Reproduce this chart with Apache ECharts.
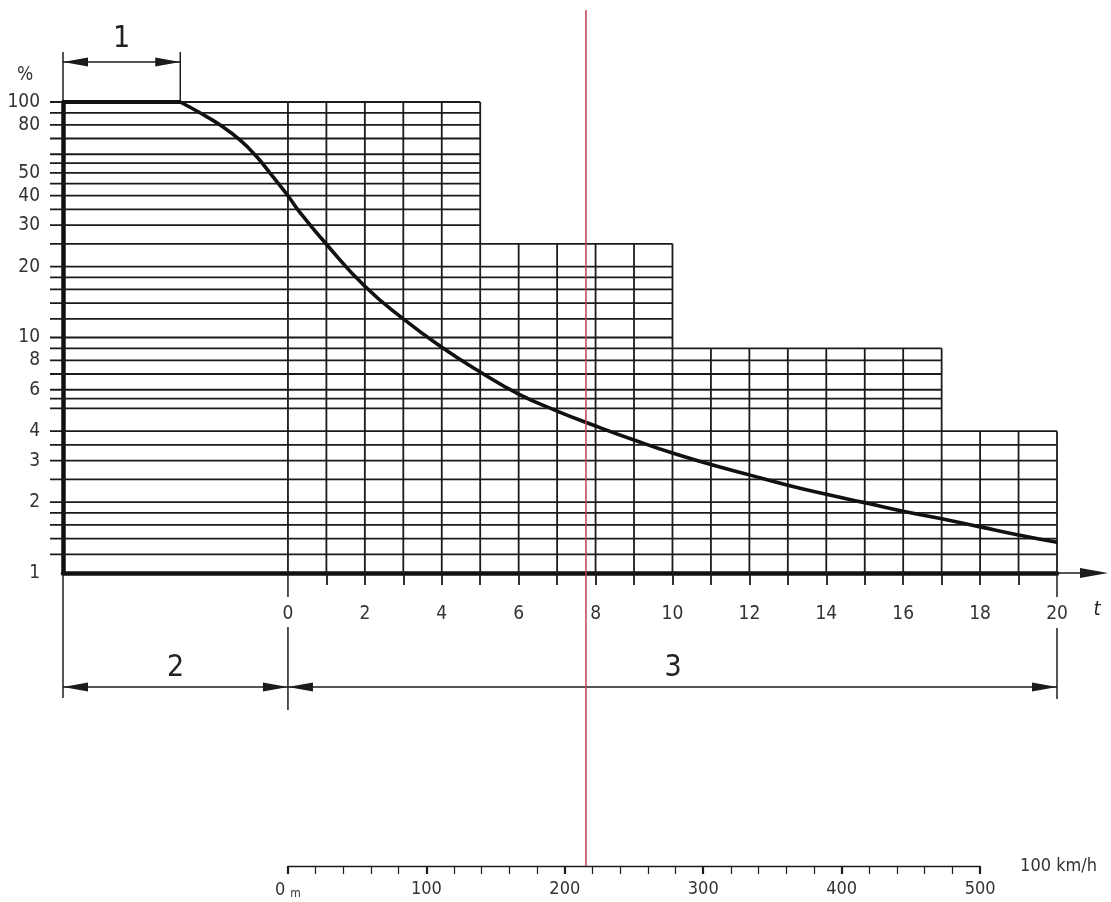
<!DOCTYPE html>
<html>
<head>
<meta charset="utf-8">
<script src="https://cdn.jsdelivr.net/npm/echarts@6/dist/echarts.min.js"></script>
<style>
  html, body { margin: 0; padding: 0; background: #fff; }
  #chart { width: 1111px; height: 902px; }
</style>
</head>
<body>
<div id="chart"></div>
<script>
// ---- time axis t (s) ----
const T_MIN = -5.85;
const T_MAX = 20;
const tLabels = [0, 2, 4, 6, 8, 10, 12, 14, 16, 18, 20];
const tTicks = [1, 2, 3, 4, 5, 6, 7, 8, 9, 10, 11, 12, 13, 14, 15, 16, 17, 18, 19];
const gridT = [0, 1, 2, 3, 4, 5, 6, 7, 8, 9, 10, 11, 12, 13, 14, 15, 16, 17, 18, 19, 20];

// ---- percentage axis (log) ----
const pctLabels = [1, 2, 3, 4, 6, 8, 10, 20, 30, 40, 50, 80, 100];
const gridLevels = [100, 90, 80, 70, 60, 55, 50, 45, 40, 35, 30, 25, 20, 18, 16, 14, 12, 10,
                    9, 8, 7, 6, 5.5, 5, 4, 3.5, 3, 2.5, 2, 1.8, 1.6, 1.4, 1.2];

// stepped outline of the ruled field: each step ends at stepEnds[i] with height stepTops[i]
const stepEnds = [5, 10, 17, 20];
const stepTops = [100, 25, 9, 4];

// ---- characteristic curve ----
// zone 1: constant 100 %
const plateauT   = [-5.85, -2.8];
const plateauPct = [100, 100];
// drop-off from the end of zone 1 onwards
const curveT   = [-2.8, -2.29, -1.77, -1.25, -0.81, -0.47, 0, 0.31, 1, 2, 3, 4, 5, 6, 7, 8,
                  9, 10, 11, 12, 13, 14, 15, 16, 17, 18, 19, 20];
const curvePct = [100, 90, 80, 69, 58.5, 50, 40, 34, 24.9, 16.5, 12.0, 9.1, 7.14, 5.75, 4.87, 4.21,
                  3.67, 3.23, 2.89, 2.61, 2.36, 2.16, 1.99, 1.83, 1.70, 1.57, 1.45, 1.35];

// ---- zones and marker ----
const zone1End = -2.8;     // end of zone 1 (start of the drop)
const markerT = 7.75;      // red reference line

// ---- distance scale at 100 km/h ----
const SPEED_KMH = 100;
const distLabels = [0, 100, 200, 300, 400, 500];
const DIST_MAX = 500;

const INK = '#1b1b1b';
const TXT = '#333';
const FONT = '"DejaVu Sans Condensed", "Liberation Sans Narrow", "DejaVu Sans", sans-serif';

const GRID_LEFT = 63, GRID_RIGHT = 54, GRID_TOP = 102, GRID_BOTTOM = 329;
const plotW = 1111 - GRID_LEFT - GRID_RIGHT;
const pxOfT = t => GRID_LEFT + (t - T_MIN) / (T_MAX - T_MIN) * plotW;
const tAtDistMax = DIST_MAX / (SPEED_KMH / 3.6);

function topFor(t) {
  const i = stepEnds.findIndex(e => t <= e + 1e-9);
  return stepTops[i];
}
function endFor(v) {
  let end = stepEnds[0];
  stepTops.forEach((top, i) => { if (top >= v - 1e-9) end = stepEnds[i]; });
  return end;
}
function arrowHead(tipX, y, dir, len, half) {
  return {
    type: 'polygon',
    shape: { points: [[tipX, y], [tipX - dir * len, y - half], [tipX - dir * len, y + half]] },
    style: { fill: INK }
  };
}
function seg(x1, y1, x2, y2, w) {
  return { type: 'line', shape: { x1, y1, x2, y2 }, style: { stroke: INK, lineWidth: w || 1.5 } };
}
function txt(x, y, text, size, extra) {
  return {
    type: 'text', x, y,
    style: Object.assign({
      text, fill: '#222', font: size + 'px ' + FONT,
      align: 'center', verticalAlign: 'middle',
      textAlign: 'center', textVerticalAlign: 'middle'
    }, extra || {})
  };
}

const chart = echarts.init(document.getElementById('chart'), null, { renderer: 'canvas' });

const option = {
  backgroundColor: '#fff',
  animation: false,
  grid: [
    { left: GRID_LEFT, right: GRID_RIGHT, top: GRID_TOP, bottom: GRID_BOTTOM,
      containLabel: false, outerBoundsMode: 'none' },
    { left: pxOfT(0), width: pxOfT(tAtDistMax) - pxOfT(0), top: 865, height: 1,
      containLabel: false, outerBoundsMode: 'none' }
  ],
  xAxis: [
    {
      type: 'value', gridIndex: 0, min: T_MIN, max: T_MAX,
      axisLine: { show: true, onZero: false, lineStyle: { color: '#111', width: 4.5 } },
      axisTick: { show: true, customValues: tTicks, length: 12, lineStyle: { color: INK, width: 1.8 } },
      axisLabel: { show: true, customValues: tLabels, margin: 32, color: TXT, fontSize: 19, fontFamily: FONT },
      splitLine: { show: false }
    },
    {
      type: 'value', gridIndex: 1, min: 0, max: DIST_MAX, interval: 100,
      axisLine: { show: true, lineStyle: { color: INK, width: 1.4 } },
      axisTick: { show: true, length: 8, lineStyle: { color: INK, width: 2.2 } },
      minorTick: { show: true, splitNumber: 5, length: 8, lineStyle: { color: INK, width: 1.2 } },
      axisLabel: {
        show: true, margin: 14, color: TXT, fontSize: 18, fontFamily: FONT,
        formatter: v => v === 0 ? '{n|0}{m|m}' : String(v),
        rich: {
          n: { fontSize: 18, fontFamily: FONT, color: TXT },
          m: { fontSize: 12, fontFamily: FONT, color: TXT, padding: [8, 0, 0, 5] }
        }
      },
      splitLine: { show: false },
      name: SPEED_KMH + ' km/h', nameLocation: 'end', nameGap: 40,
      nameTextStyle: { color: TXT, fontSize: 18, fontFamily: FONT, verticalAlign: 'middle', padding: [0, 0, 2, 0] }
    }
  ],
  yAxis: [
    {
      type: 'log', logBase: 10, gridIndex: 0, min: 1, max: 100,
      axisLine: { show: true, onZero: false, lineStyle: { color: '#111', width: 4.5 } },
      axisTick: { show: false },
      axisLabel: { show: false },
      splitLine: { show: false },
      minorTick: { show: false }, minorSplitLine: { show: false }
    },
    { type: 'value', gridIndex: 1, show: false, min: 0, max: 1 }
  ],
  series: [
    // horizontal rulings with their short ticks left of the axis
    {
      type: 'custom', xAxisIndex: 0, yAxisIndex: 0, z: 3, silent: true,
      data: gridLevels.map(v => [T_MIN, v]),
      renderItem(params, api) {
        const v = api.value(1);
        const a = api.coord([T_MIN, v]);
        const b = api.coord([endFor(v), v]);
        return seg(a[0] - 13, a[1], b[0], b[1], 1.8);
      }
    },
    // vertical rulings
    {
      type: 'custom', xAxisIndex: 0, yAxisIndex: 0, z: 3, silent: true,
      data: gridT.map(t => [t, topFor(t)]),
      renderItem(params, api) {
        const t = api.value(0);
        const a = api.coord([t, api.value(1)]);
        const b = api.coord([t, 1]);
        return seg(a[0], a[1], b[0], b[1], 1.8);
      }
    },
    // percentage labels
    {
      type: 'custom', xAxisIndex: 0, yAxisIndex: 0, z: 4, silent: true,
      data: pctLabels.map(v => [T_MIN, v]),
      renderItem(params, api) {
        const v = api.value(1);
        const p = api.coord([T_MIN, v]);
        return txt(p[0] - 23, p[1], String(v), 19, { fill: TXT, align: 'right', textAlign: 'right' });
      }
    },
    // dimension lines, axis arrow and zone numbers
    {
      type: 'custom', xAxisIndex: 0, yAxisIndex: 0, z: 5, silent: true,
      data: [[0, 1]],
      renderItem(params, api) {
        const yBase = api.coord([0, 1])[1];
        const yTop = api.coord([0, 100])[1];
        const xL = api.coord([T_MIN, 1])[0];
        const x1 = api.coord([zone1End, 1])[0];
        const x0 = api.coord([0, 1])[0];
        const x20 = api.coord([T_MAX, 1])[0];
        const yDim1 = yTop - 40;
        const yDim = yBase + 114;
        const yLab = yBase + 40;
        const children = [
          // zone 1
          seg(xL, yTop - 50, xL, yTop, 1.5),
          seg(x1, yTop - 50, x1, yTop, 1.5),
          seg(xL, yDim1, x1, yDim1, 1.5),
          arrowHead(xL, yDim1, -1, 25, 4.5),
          arrowHead(x1, yDim1, 1, 25, 4.5),
          txt((xL + x1) / 2, yDim1 - 23, '1', 30),
          // extension lines below the t axis
          seg(xL, yBase, xL, yDim + 11, 1.5),
          seg(x0, yBase, x0, yLab - 16, 1.5),
          seg(x0, yLab + 14, x0, yDim + 23, 1.5),
          seg(x20, yBase, x20, yLab - 16, 1.5),
          seg(x20, yLab + 15, x20, yDim + 12, 1.5),
          // zone 2
          seg(xL, yDim, x0, yDim, 1.5),
          arrowHead(xL, yDim, -1, 25, 4.5),
          arrowHead(x0, yDim, 1, 25, 4.5),
          txt((xL + x0) / 2, yDim - 19, '2', 30),
          // zone 3
          seg(x0, yDim, x20, yDim, 1.5),
          arrowHead(x0, yDim, -1, 25, 4.5),
          arrowHead(x20, yDim, 1, 25, 4.5),
          txt((x0 + x20) / 2 + 0.5, yDim - 19, '3', 30),
          // arrow of the t axis
          seg(x20, yBase, x20 + 30, yBase, 1.5),
          arrowHead(x20 + 51, yBase, 1, 28, 5),
          txt(x20 + 40, yLab - 3, 't', 20, { fontStyle: 'italic', font: 'italic 20px ' + FONT }),
          // percent unit
          txt(xL - 38, yTop - 27, '%', 19, { fill: TXT })
        ];
        return { type: 'group', children };
      }
    },
    // zone 1 plateau
    {
      type: 'line', xAxisIndex: 0, yAxisIndex: 0, z: 6, silent: true,
      data: plateauT.map((t, i) => [t, plateauPct[i]]),
      symbol: 'none',
      lineStyle: { color: '#111', width: 4 }
    },
    // characteristic curve
    {
      type: 'line', xAxisIndex: 0, yAxisIndex: 0, z: 6, silent: true,
      data: curveT.map((t, i) => [t, curvePct[i]]),
      smooth: 0.5,
      symbol: 'none',
      lineStyle: { color: '#111', width: 3.6 }
    },
    // red reference line
    {
      type: 'custom', xAxisIndex: 0, yAxisIndex: 0, z: 8, silent: true,
      data: [[markerT, 1]],
      renderItem(params, api) {
        const x = api.coord([api.value(0), 1])[0];
        return {
          type: 'line',
          shape: { x1: x, y1: 10, x2: x, y2: 866 },
          style: { stroke: '#c4404c', lineWidth: 1.5 }
        };
      }
    }
  ]
};

chart.setOption(option);
</script>
</body>
</html>
